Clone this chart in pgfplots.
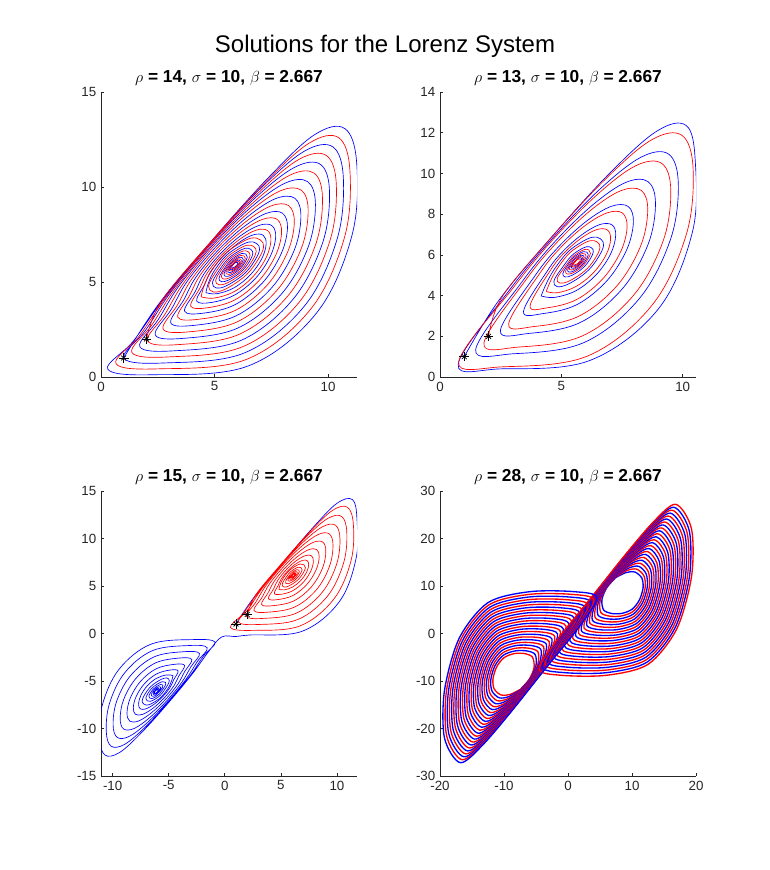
\documentclass[border=0pt]{standalone}
\usepackage{pgfplots}
\pgfplotsset{compat=1.18}
\usepackage{fontspec}
\setmainfont{Liberation Sans}
\definecolor{axc}{rgb}{0.15,0.15,0.15}
\pgfplotsset{
  lz/.style={scale only axis, width=192pt, height=213.75pt, anchor=south west,
    axis lines*=left, tick pos=left, tick align=inside, major tick length=2.2pt,
    axis line style={draw=axc, line width=0.5pt},
    tick style={draw=axc, line width=0.5pt},
    tick label style={font=\fontsize{10}{12}\selectfont, text=axc},
    /pgf/number format/assume math mode=true,
    title style={font=\bfseries\fontsize{13}{15}\selectfont, at={(0.5,1)}, anchor=base, yshift=1.3pt}},
  bl/.style={color=blue, line width=0.5pt, smooth, tension=0.6},
  rd/.style={color=red, line width=0.5pt, smooth, tension=0.6},
  bls/.style={color=blue, line width=0.5pt, smooth, tension=0.9},
  rds/.style={color=red, line width=0.5pt, smooth, tension=0.9},
  bl4/.style={color=blue, line width=1.0pt, smooth},
  rd4/.style={color=red, line width=1.0pt, smooth},
  st/.style={only marks, black, mark options={line width=0.55pt}},
}
\begin{document}
\begin{tikzpicture}
\path[use as bounding box] (0,0) rectangle (577.5pt,652.5pt);
\node[anchor=base, font=\fontsize{18}{21}\selectfont] at (288.75pt,613pt) {Solutions for the Lorenz System};

% ---------------- Panel 1 : rho = 14
\begin{axis}[lz, at={(75.75pt,369.75pt)}, xmin=0, xmax=11.27, ymin=0, ymax=15,
  xtick={0,5,10}, ytick={0,5,10,15}, title={$\rho$ = 14, $\sigma$ = 10, $\beta$ = 2.667}]
\addplot[bl] coordinates {(1,1) (2.56,3.87) (4.92,7.24) (7.39,10.52) (9.40,12.75) (10.74,13.07) (11.26,11.20) (11.05,7.46) (9.51,3.40) (6.48,0.58) (2.36,0.12) (0.30,0.41)
(1.43,1.90) (2.81,4.19) (4.88,7.16) (7.10,10.01) (8.96,11.89) (10.21,12.11) (10.67,10.46) (10.39,7.24) (8.96,3.74) (6.30,1.26) (2.81,0.74) (1.01,0.99)
(1.96,2.46) (3.09,4.49) (4.88,7.06) (6.84,9.48) (8.53,11.04) (9.66,11.19) (10.06,9.76) (9.75,7.04) (8.44,4.07) (6.15,1.92) (3.25,1.38) (1.71,1.59)
(2.52,3.02) (3.42,4.77) (4.92,6.94) (6.61,8.94) (8.10,10.20) (9.10,10.28) (9.44,9.08) (9.12,6.84) (7.96,4.39) (6.03,2.58) (3.69,2.04) (2.39,2.21)
(3.10,3.57) (3.79,5.03) (5.01,6.79) (6.41,8.39) (7.67,9.38) (8.53,9.41) (8.80,8.43) (8.50,6.65) (7.51,4.69) (5.95,3.22) (4.12,2.72) (3.07,2.85)
(3.65,4.07) (4.17,5.24) (5.13,6.64) (6.26,7.88) (7.29,8.62) (7.99,8.62) (8.21,7.85) (7.93,6.48) (7.12,4.97) (5.89,3.80) (4.51,3.36) (3.68,3.46)
(4.15,4.50) (4.53,5.42) (5.26,6.49) (6.14,7.43) (6.96,7.98) (7.52,7.97) (7.69,7.37) (7.45,6.34) (6.80,5.19) (5.86,4.30) (4.84,3.92) (4.21,4.00)
(4.55,4.84) (4.83,5.55) (5.38,6.36) (6.07,7.07) (6.70,7.48) (7.14,7.46) (7.27,7.00) (7.08,6.23) (6.57,5.37) (5.85,4.69) (5.09,4.38) (4.62,4.44)};
\addplot[bls] coordinates {(4.62,4.44) (5.03,5.67) (5.98,6.80) (6.85,7.03) (6.77,6.13) (5.82,5.00) (4.95,4.77)
(5.27,5.73) (5.96,6.55) (6.59,6.72) (6.53,6.07) (5.84,5.25) (5.22,5.08)
(5.47,5.78) (5.94,6.35) (6.38,6.47) (6.33,6.02) (5.86,5.45) (5.43,5.34)
(5.61,5.82) (5.93,6.20) (6.22,6.28) (6.19,5.98) (5.87,5.60) (5.58,5.52)
(5.72,5.85) (5.92,6.09) (6.10,6.14) (6.08,5.95) (5.88,5.71) (5.70,5.66)
(5.79,5.87) (5.91,6.02) (6.02,6.04) (6.01,5.93) (5.89,5.79) (5.78,5.76)};
\addplot[rd] coordinates {(2,2) (2.68,4.03) (4.90,7.20) (7.25,10.27) (9.18,12.32) (10.47,12.59) (10.96,10.83) (10.72,7.35) (9.23,3.57) (6.39,0.92) (2.58,0.43) (0.66,0.70)
(1.70,2.18) (2.95,4.34) (4.88,7.11) (6.97,9.74) (8.74,11.47) (9.93,11.65) (10.36,10.11) (10.07,7.14) (8.70,3.90) (6.23,1.59) (3.03,1.06) (1.36,1.29)
(2.24,2.74) (3.26,4.63) (4.90,7.00) (6.73,9.21) (8.31,10.62) (9.38,10.73) (9.75,9.42) (9.44,6.94) (8.20,4.23) (6.09,2.25) (3.47,1.71) (2.05,1.90)
(2.81,3.29) (3.61,4.90) (4.96,6.87) (6.51,8.67) (7.88,9.79) (8.81,9.84) (9.12,8.75) (8.81,6.74) (7.73,4.54) (5.99,2.90) (3.90,2.38) (2.73,2.53)
(3.38,3.82) (3.98,5.13) (5.07,6.72) (6.34,8.14) (7.48,9.00) (8.26,9.02) (8.51,8.14) (8.21,6.56) (7.31,4.83) (5.92,3.51) (4.31,3.04) (3.38,3.15)
(3.90,4.29) (4.35,5.33) (5.19,6.57) (6.20,7.66) (7.12,8.30) (7.75,8.30) (7.95,7.61) (7.69,6.41) (6.96,5.08) (5.88,4.05) (4.67,3.64) (3.95,3.73)
(4.35,4.67) (4.68,5.48) (5.32,6.43) (6.11,7.25) (6.83,7.73) (7.33,7.71) (7.48,7.19) (7.27,6.28) (6.69,5.28) (5.86,4.49) (4.97,4.15) (4.41,4.22)};
\addplot[rds] coordinates {(4.41,4.22) (4.89,5.63) (5.99,6.95) (7.01,7.22) (6.91,6.17) (5.81,4.85) (4.79,4.58)
(5.15,5.70) (5.97,6.67) (6.72,6.87) (6.65,6.10) (5.83,5.13) (5.08,4.93)
(5.37,5.76) (5.95,6.45) (6.48,6.59) (6.43,6.04) (5.85,5.35) (5.32,5.21)
(5.54,5.80) (5.93,6.27) (6.30,6.37) (6.26,6.00) (5.87,5.53) (5.51,5.43)
(5.67,5.84) (5.92,6.14) (6.15,6.20) (6.13,5.96) (5.88,5.66) (5.65,5.60)
(5.76,5.86) (5.91,6.05) (6.06,6.09) (6.05,5.94) (5.89,5.75) (5.74,5.71)};
\addplot[st, mark=+, mark size=3.6pt] coordinates {(1,1) (2,2)};
\addplot[st, mark=x, mark size=2.6pt] coordinates {(1,1) (2,2)};
\end{axis}

% ---------------- Panel 2 : rho = 13
\begin{axis}[lz, at={(330pt,369.75pt)}, xmin=0, xmax=10.55, ymin=0, ymax=14,
  xtick={0,5,10}, ytick={0,2,4,6,8,10,12,14}, title={$\rho$ = 13, $\sigma$ = 10, $\beta$ = 2.667}]
\addplot[bl] coordinates {(1,1) (2.44,3.79) (4.66,6.96) (7.01,10.03) (8.94,12.08) (10.15,12.35) (10.52,10.59) (10.40,7.11) (8.99,3.33) (6.15,0.80) (2.50,0.40) (0.75,0.62)
(2.85,4.25) (4.64,6.82) (6.60,9.24) (8.29,10.80) (9.42,10.95) (9.82,9.52) (9.51,6.80) (8.20,3.83) (5.91,1.68) (3.01,1.14) (1.47,1.35)
(3.37,4.66) (4.72,6.63) (6.27,8.43) (7.64,9.55) (8.57,9.60) (8.88,8.51) (8.57,6.50) (7.49,4.30) (5.75,2.66) (3.66,2.14) (2.49,2.29)
(3.93,5.00) (4.89,6.40) (6.02,7.64) (7.05,8.38) (7.75,8.38) (7.97,7.61) (7.69,6.24) (6.88,4.73) (5.65,3.56) (4.27,3.12) (3.44,3.22)
(4.44,5.24) (5.08,6.19) (5.87,7.01) (6.59,7.49) (7.09,7.47) (7.24,6.95) (7.03,6.04) (6.45,5.04) (5.62,4.25) (4.73,3.91) (4.17,3.98)};
\addplot[bls] coordinates {(4.17,3.98) (4.79,5.43) (5.74,6.56) (6.61,6.79) (6.53,5.89) (5.58,4.76) (4.71,4.53)
(5.13,5.52) (5.71,6.21) (6.24,6.35) (6.19,5.80) (5.61,5.11) (5.08,4.97)
(5.30,5.56) (5.69,6.03) (6.06,6.13) (6.02,5.76) (5.63,5.29) (5.27,5.19)
(5.43,5.60) (5.68,5.90) (5.91,5.96) (5.89,5.72) (5.64,5.42) (5.41,5.36)
(5.52,5.62) (5.67,5.81) (5.82,5.85) (5.81,5.70) (5.65,5.51) (5.50,5.47)};
\addplot[rd] coordinates {(2,2) (2.57,3.95) (4.64,6.92) (6.86,9.77) (8.72,11.65) (9.97,11.87) (10.43,10.22) (10.15,7.00) (8.72,3.50) (6.06,1.02) (2.57,0.50) (0.77,0.75)
(3.02,4.39) (4.66,6.76) (6.49,8.97) (8.07,10.38) (9.14,10.49) (9.51,9.18) (9.20,6.70) (7.96,3.99) (5.85,2.01) (3.23,1.47) (1.81,1.66)
(3.55,4.79) (4.77,6.55) (6.17,8.15) (7.43,9.14) (8.29,9.17) (8.56,8.19) (8.26,6.41) (7.27,4.45) (5.71,2.98) (3.88,2.48) (2.83,2.61)
(4.11,5.09) (4.95,6.33) (5.96,7.42) (6.88,8.06) (7.51,8.06) (7.71,7.37) (7.45,6.17) (6.72,4.84) (5.64,3.81) (4.43,3.40) (3.71,3.49)
(4.59,5.31) (5.14,6.12) (5.83,6.83) (6.46,7.24) (6.90,7.22) (7.03,6.76) (6.84,5.99) (6.33,5.13) (5.61,4.45) (4.85,4.14) (4.38,4.20)};
\addplot[rds] coordinates {(4.38,4.20) (4.91,5.46) (5.73,6.43) (6.48,6.63) (6.41,5.86) (5.59,4.89) (4.84,4.69)
(5.23,5.54) (5.70,6.11) (6.14,6.23) (6.09,5.78) (5.62,5.21) (5.19,5.10)
(5.37,5.58) (5.69,5.96) (5.98,6.04) (5.95,5.74) (5.63,5.36) (5.34,5.28)
(5.48,5.61) (5.68,5.85) (5.86,5.90) (5.84,5.71) (5.64,5.47) (5.46,5.42)
(5.55,5.63) (5.67,5.78) (5.78,5.80) (5.77,5.69) (5.65,5.55) (5.54,5.52)};
\addplot[st, mark=+, mark size=3.6pt] coordinates {(1,1) (2,2)};
\addplot[st, mark=x, mark size=2.6pt] coordinates {(1,1) (2,2)};
\end{axis}

% ---------------- Panel 3 : rho = 15
\begin{axis}[lz, at={(75.75pt,70.5pt)}, xmin=-11.04, xmax=11.79, ymin=-15, ymax=15,
  xtick={-10,-5,0,5,10}, ytick={-15,-10,-5,0,5,10,15}, title={$\rho$ = 15, $\sigma$ = 10, $\beta$ = 2.667}]
\addplot[bl] coordinates {(1,1) (2.60,3.80) (5.21,7.50) (7.87,11.16) (9.99,13.69) (11.39,14.09) (11.79,12.00) (11.70,7.85) (10.19,3.31) (6.86,0.22) (2.19,-0.16) (1.00,-0.32) (-0.27,-0.36)
(-1.39,-1.82) (-2.89,-4.24) (-5.11,-7.41) (-7.46,-10.48) (-9.39,-12.53) (-10.68,-12.80) (-11.17,-11.04) (-10.93,-7.56) (-9.44,-3.78) (-6.60,-1.13) (-2.79,-0.64) (-0.87,-0.91)
(-1.91,-2.39) (-3.16,-4.55) (-5.09,-7.32) (-7.18,-9.95) (-8.95,-11.68) (-10.14,-11.86) (-10.57,-10.32) (-10.28,-7.35) (-8.91,-4.11) (-6.44,-1.80) (-3.24,-1.27) (-1.57,-1.50)
(-2.45,-2.95) (-3.47,-4.84) (-5.11,-7.21) (-6.94,-9.42) (-8.52,-10.83) (-9.59,-10.94) (-9.96,-9.63) (-9.65,-7.15) (-8.41,-4.44) (-6.30,-2.46) (-3.68,-1.92) (-2.26,-2.11)
(-3.02,-3.50) (-3.82,-5.11) (-5.17,-7.08) (-6.72,-8.88) (-8.09,-10.00) (-9.02,-10.05) (-9.33,-8.96) (-9.02,-6.95) (-7.94,-4.75) (-6.20,-3.11) (-4.11,-2.59) (-2.94,-2.74)
(-3.59,-4.03) (-4.19,-5.34) (-5.28,-6.93) (-6.55,-8.35) (-7.69,-9.21) (-8.47,-9.23) (-8.72,-8.35) (-8.42,-6.77) (-7.52,-5.04) (-6.13,-3.72) (-4.52,-3.25) (-3.59,-3.36)
(-4.11,-4.50) (-4.56,-5.54) (-5.40,-6.78) (-6.41,-7.87) (-7.33,-8.51) (-7.96,-8.51) (-8.16,-7.82) (-7.90,-6.62) (-7.17,-5.29) (-6.09,-4.26) (-4.88,-3.85) (-4.16,-3.94)
(-4.56,-4.88) (-4.89,-5.69) (-5.53,-6.64) (-6.32,-7.46) (-7.04,-7.94) (-7.54,-7.92) (-7.69,-7.40) (-7.48,-6.49) (-6.90,-5.49) (-6.07,-4.70) (-5.18,-4.36) (-4.62,-4.43)};
\addplot[bls] coordinates {(-4.62,-4.43) (-5.10,-5.84) (-6.20,-7.16) (-7.22,-7.43) (-7.12,-6.38) (-6.02,-5.06) (-5.00,-4.79)
(-5.36,-5.91) (-6.18,-6.88) (-6.93,-7.08) (-6.86,-6.31) (-6.04,-5.34) (-5.29,-5.14)
(-5.58,-5.97) (-6.16,-6.66) (-6.69,-6.80) (-6.64,-6.25) (-6.06,-5.56) (-5.53,-5.42)
(-5.75,-6.01) (-6.14,-6.48) (-6.51,-6.58) (-6.47,-6.21) (-6.08,-5.74) (-5.72,-5.64)
(-5.88,-6.05) (-6.13,-6.35) (-6.36,-6.41) (-6.34,-6.17) (-6.09,-5.87) (-5.86,-5.81)
(-5.97,-6.07) (-6.12,-6.26) (-6.27,-6.30) (-6.26,-6.15) (-6.10,-5.96) (-5.95,-5.92)};
\addplot[rd] coordinates {(2,2) (2.77,4.08) (5.13,7.45) (7.60,10.73) (9.61,12.96) (10.95,13.28) (11.47,11.41) (11.26,7.67) (9.72,3.61) (6.69,0.79) (2.57,0.33) (0.51,0.62)
(1.64,2.11) (3.02,4.40) (5.09,7.37) (7.31,10.22) (9.17,12.10) (10.42,12.32) (10.88,10.67) (10.60,7.45) (9.17,3.95) (6.51,1.47) (3.02,0.95) (1.22,1.20)
(2.17,2.67) (3.30,4.70) (5.09,7.27) (7.05,9.69) (8.74,11.25) (9.87,11.40) (10.27,9.97) (9.96,7.25) (8.65,4.28) (6.36,2.13) (3.46,1.59) (1.92,1.80)
(2.73,3.23) (3.63,4.98) (5.13,7.15) (6.82,9.15) (8.31,10.41) (9.31,10.49) (9.65,9.29) (9.33,7.05) (8.17,4.60) (6.24,2.79) (3.90,2.25) (2.60,2.42)
(3.31,3.78) (4.00,5.24) (5.22,7.00) (6.62,8.60) (7.88,9.59) (8.74,9.62) (9.01,8.64) (8.71,6.86) (7.72,4.90) (6.16,3.43) (4.33,2.93) (3.28,3.06)
(3.86,4.28) (4.38,5.45) (5.34,6.85) (6.47,8.09) (7.50,8.83) (8.20,8.83) (8.42,8.06) (8.14,6.69) (7.33,5.18) (6.10,4.01) (4.72,3.57) (3.89,3.67)
(4.36,4.71) (4.74,5.63) (5.47,6.70) (6.35,7.64) (7.17,8.19) (7.73,8.18) (7.90,7.58) (7.66,6.55) (7.01,5.40) (6.07,4.51) (5.05,4.13) (4.42,4.21)
(4.76,5.05) (5.04,5.76) (5.59,6.57) (6.28,7.28) (6.91,7.69) (7.35,7.67) (7.48,7.21) (7.29,6.44) (6.78,5.58) (6.06,4.90) (5.30,4.59) (4.83,4.65)};
\addplot[rds] coordinates {(4.83,4.65) (5.24,5.88) (6.19,7.01) (7.06,7.24) (6.98,6.34) (6.03,5.21) (5.16,4.98)
(5.48,5.94) (6.17,6.76) (6.80,6.93) (6.74,6.28) (6.05,5.46) (5.43,5.29)
(5.68,5.99) (6.15,6.56) (6.59,6.68) (6.54,6.23) (6.07,5.66) (5.64,5.55)
(5.82,6.03) (6.14,6.41) (6.43,6.49) (6.40,6.19) (6.08,5.81) (5.79,5.73)
(5.93,6.06) (6.13,6.30) (6.31,6.35) (6.29,6.16) (6.09,5.92) (5.91,5.87)
(6.00,6.08) (6.12,6.23) (6.23,6.25) (6.22,6.14) (6.10,5.99) (5.99,5.97)};
\addplot[st, mark=+, mark size=3.6pt] coordinates {(1,1) (2,2)};
\addplot[st, mark=x, mark size=2.6pt] coordinates {(1,1) (2,2)};
\end{axis}

% ---------------- Panel 4 : rho = 28
\begin{axis}[lz, at={(330pt,70.5pt)}, xmin=-20, xmax=20, ymin=-30, ymax=30,
  xtick={-20,-10,0,10,20}, ytick={-30,-20,-10,0,10,20,30}, title={$\rho$ = 28, $\sigma$ = 10, $\beta$ = 2.667}]
\addplot[bl4] coordinates {(7.43,11.74) (9.07,12.84) (10.48,12.92) (11.54,11.65) (11.73,9.60) (11.15,7.04) (10.01,5.10) (8.40,4.23) (6.76,4.23) (5.56,4.96) (5.30,7.15) (6.07,9.66) (7.43,11.74)};
\addplot[rd4] coordinates {(-7.43,-11.74) (-9.07,-12.84) (-10.48,-12.92) (-11.54,-11.65) (-11.73,-9.60) (-11.15,-7.04) (-10.01,-5.10) (-8.40,-4.23) (-6.76,-4.23) (-5.56,-4.96) (-5.30,-7.15) (-6.07,-9.66) (-7.43,-11.74)};
\addplot[rd4] coordinates {(7.45,11.88) (9.24,13.28) (10.75,13.54) (11.88,12.10) (12.06,9.71) (11.41,6.78) (10.12,4.59) (8.29,3.67) (6.43,3.67) (5.13,4.42) (5.01,6.79) (5.93,9.53) (7.45,11.88)};
\addplot[bl4] coordinates {(-7.45,-11.88) (-9.24,-13.28) (-10.75,-13.54) (-11.88,-12.10) (-12.06,-9.71) (-11.41,-6.78) (-10.12,-4.59) (-8.29,-3.67) (-6.43,-3.67) (-5.13,-4.42) (-5.01,-6.79) (-5.93,-9.53) (-7.45,-11.88)};
\addplot[bl4] coordinates {(7.48,12.03) (9.41,13.73) (11.03,14.16) (12.21,12.55) (12.39,9.81) (11.66,6.51) (10.22,4.09) (8.19,3.10) (6.09,3.10) (4.69,3.87) (4.71,6.44) (5.80,9.39) (7.48,12.03)};
\addplot[rd4] coordinates {(-7.48,-12.03) (-9.41,-13.73) (-11.03,-14.16) (-12.21,-12.55) (-12.39,-9.81) (-11.66,-6.51) (-10.22,-4.09) (-8.19,-3.10) (-6.09,-3.10) (-4.69,-3.87) (-4.71,-6.44) (-5.80,-9.39) (-7.48,-12.03)};
\addplot[rd4] coordinates {(7.50,12.17) (9.58,14.17) (11.30,14.78) (12.55,13.00) (12.72,9.92) (11.92,6.25) (10.33,3.58) (8.08,2.53) (5.75,2.53) (4.25,3.33) (4.42,6.08) (5.67,9.25) (7.50,12.17)};
\addplot[bl4] coordinates {(-7.50,-12.17) (-9.58,-14.17) (-11.30,-14.78) (-12.55,-13.00) (-12.72,-9.92) (-11.92,-6.25) (-10.33,-3.58) (-8.08,-2.53) (-5.75,-2.53) (-4.25,-3.33) (-4.42,-6.08) (-5.67,-9.25) (-7.50,-12.17)};
\addplot[bl4] coordinates {(7.53,12.31) (9.75,14.61) (11.58,15.40) (12.89,13.45) (13.05,10.02) (12.17,5.99) (10.44,3.08) (7.98,1.97) (5.41,1.97) (3.81,2.79) (4.12,5.73) (5.53,9.11) (7.53,12.31)};
\addplot[rd4] coordinates {(-7.53,-12.31) (-9.75,-14.61) (-11.58,-15.40) (-12.89,-13.45) (-13.05,-10.02) (-12.17,-5.99) (-10.44,-3.08) (-7.98,-1.97) (-5.41,-1.97) (-3.81,-2.79) (-4.12,-5.73) (-5.53,-9.11) (-7.53,-12.31)};
\addplot[rd4] coordinates {(7.55,12.45) (9.92,15.05) (11.85,16.02) (13.23,13.90) (13.38,10.13) (12.43,5.73) (10.55,2.57) (7.88,1.40) (5.08,1.40) (3.38,2.25) (3.83,5.37) (5.40,8.98) (7.55,12.45)};
\addplot[bl4] coordinates {(-7.55,-12.45) (-9.92,-15.05) (-11.85,-16.02) (-13.23,-13.90) (-13.38,-10.13) (-12.43,-5.73) (-10.55,-2.57) (-7.88,-1.40) (-5.08,-1.40) (-3.38,-2.25) (-3.83,-5.37) (-5.40,-8.98) (-7.55,-12.45)};
\addplot[bl4] coordinates {(7.58,12.59) (10.10,15.49) (12.13,16.65) (13.56,14.35) (13.70,10.23) (12.68,5.46) (10.66,2.07) (7.77,0.83) (4.74,0.83) (2.94,1.71) (3.53,5.02) (5.27,8.84) (7.58,12.59)};
\addplot[rd4] coordinates {(-7.58,-12.59) (-10.10,-15.49) (-12.13,-16.65) (-13.56,-14.35) (-13.70,-10.23) (-12.68,-5.46) (-10.66,-2.07) (-7.77,-0.83) (-4.74,-0.83) (-2.94,-1.71) (-3.53,-5.02) (-5.27,-8.84) (-7.58,-12.59)};
\addplot[rd4] coordinates {(7.60,12.73) (10.27,15.93) (12.40,17.27) (13.90,14.80) (14.03,10.33) (12.93,5.20) (10.77,1.57) (7.67,0.27) (4.40,0.27) (2.50,1.17) (3.23,4.67) (5.13,8.70) (7.60,12.73)};
\addplot[bl4] coordinates {(-7.60,-12.73) (-10.27,-15.93) (-12.40,-17.27) (-13.90,-14.80) (-14.03,-10.33) (-12.93,-5.20) (-10.77,-1.57) (-7.67,-0.27) (-4.40,-0.27) (-2.50,-1.17) (-3.23,-4.67) (-5.13,-8.70) (-7.60,-12.73)};
\addplot[bl4] coordinates {(7.63,12.88) (10.44,16.38) (12.68,17.89) (14.24,15.25) (14.36,10.44) (13.19,4.94) (10.87,1.06) (7.56,-0.30) (4.06,-0.30) (2.06,0.62) (2.94,4.31) (5.00,8.56) (7.63,12.88)};
\addplot[rd4] coordinates {(-7.63,-12.88) (-10.44,-16.38) (-12.68,-17.89) (-14.24,-15.25) (-14.36,-10.44) (-13.19,-4.94) (-10.87,-1.06) (-7.56,0.30) (-4.06,0.30) (-2.06,-0.62) (-2.94,-4.31) (-5.00,-8.56) (-7.63,-12.88)};
\addplot[rd4] coordinates {(7.65,13.02) (10.61,16.82) (12.95,18.51) (14.58,15.70) (14.69,10.54) (13.44,4.68) (10.98,0.56) (7.46,-0.87) (3.73,-0.87) (1.63,0.08) (2.64,3.96) (4.87,8.43) (7.65,13.02)};
\addplot[bl4] coordinates {(-7.65,-13.02) (-10.61,-16.82) (-12.95,-18.51) (-14.58,-15.70) (-14.69,-10.54) (-13.44,-4.68) (-10.98,-0.56) (-7.46,0.87) (-3.73,0.87) (-1.63,-0.08) (-2.64,-3.96) (-4.87,-8.43) (-7.65,-13.02)};
\addplot[bl4] coordinates {(7.68,13.16) (10.78,17.26) (13.23,19.13) (14.91,16.15) (15.02,10.65) (13.70,4.41) (11.09,0.05) (7.35,-1.43) (3.39,-1.43) (1.19,-0.46) (2.35,3.60) (4.73,8.29) (7.68,13.16)};
\addplot[rd4] coordinates {(-7.68,-13.16) (-10.78,-17.26) (-13.23,-19.13) (-14.91,-16.15) (-15.02,-10.65) (-13.70,-4.41) (-11.09,-0.05) (-7.35,1.43) (-3.39,1.43) (-1.19,0.46) (-2.35,-3.60) (-4.73,-8.29) (-7.68,-13.16)};
\addplot[rd4] coordinates {(7.70,13.30) (10.95,17.70) (13.50,19.75) (15.25,16.60) (15.35,10.75) (13.95,4.15) (11.20,-0.45) (7.25,-2.00) (3.05,-2.00) (0.75,-1.00) (2.05,3.25) (4.60,8.15) (7.70,13.30)};
\addplot[bl4] coordinates {(-7.70,-13.30) (-10.95,-17.70) (-13.50,-19.75) (-15.25,-16.60) (-15.35,-10.75) (-13.95,-4.15) (-11.20,0.45) (-7.25,2.00) (-3.05,2.00) (-0.75,1.00) (-2.05,-3.25) (-4.60,-8.15) (-7.70,-13.30)};
\addplot[bl4] coordinates {(7.73,13.44) (11.12,18.14) (13.78,20.37) (15.59,17.05) (15.68,10.85) (14.20,3.89) (11.31,-0.95) (7.15,-2.57) (2.71,-2.57) (0.31,-1.54) (1.75,2.90) (4.47,8.01) (7.73,13.44)};
\addplot[rd4] coordinates {(-7.73,-13.44) (-11.12,-18.14) (-13.78,-20.37) (-15.59,-17.05) (-15.68,-10.85) (-14.20,-3.89) (-11.31,0.95) (-7.15,2.57) (-2.71,2.57) (-0.31,1.54) (-1.75,-2.90) (-4.47,-8.01) (-7.73,-13.44)};
\addplot[rd4] coordinates {(7.75,13.58) (11.29,18.58) (14.05,20.99) (15.93,17.50) (16.01,10.96) (14.46,3.63) (11.42,-1.46) (7.04,-3.13) (2.38,-3.13) (-0.13,-2.08) (1.46,2.54) (4.33,7.88) (7.75,13.58)};
\addplot[bl4] coordinates {(-7.75,-13.58) (-11.29,-18.58) (-14.05,-20.99) (-15.93,-17.50) (-16.01,-10.96) (-14.46,-3.63) (-11.42,1.46) (-7.04,3.13) (-2.38,3.13) (0.13,2.08) (-1.46,-2.54) (-4.33,-7.88) (-7.75,-13.58)};
\addplot[bl4] coordinates {(7.78,13.73) (11.46,19.03) (14.33,21.61) (16.26,17.95) (16.34,11.06) (14.71,3.36) (11.52,-1.96) (6.94,-3.70) (2.04,-3.70) (-0.56,-2.63) (1.16,2.19) (4.20,7.74) (7.78,13.73)};
\addplot[rd4] coordinates {(-7.78,-13.73) (-11.46,-19.03) (-14.33,-21.61) (-16.26,-17.95) (-16.34,-11.06) (-14.71,-3.36) (-11.52,1.96) (-6.94,3.70) (-2.04,3.70) (0.56,2.63) (-1.16,-2.19) (-4.20,-7.74) (-7.78,-13.73)};
\addplot[rd4] coordinates {(7.80,13.87) (11.63,19.47) (14.60,22.23) (16.60,18.40) (16.67,11.17) (14.97,3.10) (11.63,-2.47) (6.83,-4.27) (1.70,-4.27) (-1.00,-3.17) (0.87,1.83) (4.07,7.60) (7.80,13.87)};
\addplot[bl4] coordinates {(-7.80,-13.87) (-11.63,-19.47) (-14.60,-22.23) (-16.60,-18.40) (-16.67,-11.17) (-14.97,-3.10) (-11.63,2.47) (-6.83,4.27) (-1.70,4.27) (1.00,3.17) (-0.87,-1.83) (-4.07,-7.60) (-7.80,-13.87)};
\addplot[bl4] coordinates {(7.83,14.01) (11.80,19.91) (14.88,22.85) (16.94,18.85) (17.00,11.27) (15.22,2.84) (11.74,-2.97) (6.73,-4.83) (1.36,-4.83) (-1.44,-3.71) (0.57,1.48) (3.93,7.46) (7.83,14.01)};
\addplot[rd4] coordinates {(-7.83,-14.01) (-11.80,-19.91) (-14.88,-22.85) (-16.94,-18.85) (-17.00,-11.27) (-15.22,-2.84) (-11.74,2.97) (-6.73,4.83) (-1.36,4.83) (1.44,3.71) (-0.57,-1.48) (-3.93,-7.46) (-7.83,-14.01)};
\addplot[rd4] coordinates {(7.85,14.15) (11.97,20.35) (15.15,23.47) (17.28,19.30) (17.33,11.38) (15.48,2.58) (11.85,-3.48) (6.63,-5.40) (1.03,-5.40) (-1.88,-4.25) (0.28,1.12) (3.80,7.33) (7.85,14.15)};
\addplot[bl4] coordinates {(-7.85,-14.15) (-11.97,-20.35) (-15.15,-23.47) (-17.28,-19.30) (-17.33,-11.38) (-15.48,-2.58) (-11.85,3.48) (-6.63,5.40) (-1.03,5.40) (1.88,4.25) (-0.28,-1.12) (-3.80,-7.33) (-7.85,-14.15)};
\addplot[bl4] coordinates {(7.88,14.29) (12.15,20.79) (15.43,24.10) (17.61,19.75) (17.65,11.48) (15.73,2.31) (11.96,-3.98) (6.52,-5.97) (0.69,-5.97) (-2.31,-4.79) (-0.02,0.77) (3.67,7.19) (7.88,14.29)};
\addplot[rd4] coordinates {(-7.88,-14.29) (-12.15,-20.79) (-15.43,-24.10) (-17.61,-19.75) (-17.65,-11.48) (-15.73,-2.31) (-11.96,3.98) (-6.52,5.97) (-0.69,5.97) (2.31,4.79) (0.02,-0.77) (-3.67,-7.19) (-7.88,-14.29)};
\addplot[rd4] coordinates {(7.90,14.43) (12.32,21.23) (15.70,24.72) (17.95,20.20) (17.98,11.58) (15.98,2.05) (12.07,-4.48) (6.42,-6.53) (0.35,-6.53) (-2.75,-5.33) (-0.32,0.42) (3.53,7.05) (7.90,14.43)};
\addplot[bl4] coordinates {(-7.90,-14.43) (-12.32,-21.23) (-15.70,-24.72) (-17.95,-20.20) (-17.98,-11.58) (-15.98,-2.05) (-12.07,4.48) (-6.42,6.53) (-0.35,6.53) (2.75,5.33) (0.32,-0.42) (-3.53,-7.05) (-7.90,-14.43)};
\addplot[bl4] coordinates {(7.93,14.58) (12.49,21.68) (15.98,25.34) (18.29,20.65) (18.31,11.69) (16.24,1.79) (12.17,-4.99) (6.31,-7.10) (0.01,-7.10) (-3.19,-5.88) (-0.61,0.06) (3.40,6.91) (7.93,14.58)};
\addplot[rd4] coordinates {(-7.93,-14.58) (-12.49,-21.68) (-15.98,-25.34) (-18.29,-20.65) (-18.31,-11.69) (-16.24,-1.79) (-12.17,4.99) (-6.31,7.10) (-0.01,7.10) (3.19,5.88) (0.61,-0.06) (-3.40,-6.91) (-7.93,-14.58)};
\addplot[rd4] coordinates {(7.95,14.72) (12.66,22.12) (16.25,25.96) (18.63,21.10) (18.64,11.79) (16.49,1.53) (12.28,-5.49) (6.21,-7.67) (-0.33,-7.67) (-3.63,-6.42) (-0.91,-0.29) (3.27,6.78) (7.95,14.72)};
\addplot[bl4] coordinates {(-7.95,-14.72) (-12.66,-22.12) (-16.25,-25.96) (-18.63,-21.10) (-18.64,-11.79) (-16.49,-1.53) (-12.28,5.49) (-6.21,7.67) (0.33,7.67) (3.63,6.42) (0.91,0.29) (-3.27,-6.78) (-7.95,-14.72)};
\addplot[bl4] coordinates {(7.98,14.86) (12.83,22.56) (16.53,26.58) (18.96,21.55) (18.97,11.90) (16.75,1.26) (12.39,-6.00) (6.10,-8.23) (-0.66,-8.23) (-4.06,-6.96) (-1.20,-0.65) (3.13,6.64) (7.98,14.86)};
\addplot[rd4] coordinates {(-7.98,-14.86) (-12.83,-22.56) (-16.53,-26.58) (-18.96,-21.55) (-18.97,-11.90) (-16.75,-1.26) (-12.39,6.00) (-6.10,8.23) (0.66,8.23) (4.06,6.96) (1.20,0.65) (-3.13,-6.64) (-7.98,-14.86)};
\addplot[rd4] coordinates {(8.00,15.00) (13.00,23.00) (16.80,27.20) (19.30,22.00) (19.30,12.00) (17.00,1.00) (12.50,-6.50) (6.00,-8.80) (-1.00,-8.80) (-4.50,-7.50) (-1.50,-1.00) (3.00,6.50) (8.00,15.00)};
\addplot[bl4] coordinates {(-8.00,-15.00) (-13.00,-23.00) (-16.80,-27.20) (-19.30,-22.00) (-19.30,-12.00) (-17.00,-1.00) (-12.50,6.50) (-6.00,8.80) (1.00,8.80) (4.50,7.50) (1.50,1.00) (-3.00,-6.50) (-8.00,-15.00)};
\end{axis}
\end{tikzpicture}
\end{document}
